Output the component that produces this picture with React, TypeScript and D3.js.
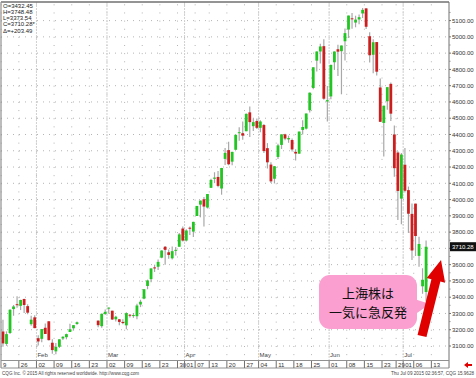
import React from 'react';
import * as d3 from 'd3';

// Trading days (2015, MM-DD)
const dates = [
  '01-19','01-20','01-21','01-22','01-23','01-26','01-27','01-28','01-29','01-30',
  '02-02','02-03','02-04','02-05','02-06','02-09','02-10','02-11','02-12','02-13',
  '02-16','02-17','02-25','02-26','02-27',
  '03-02','03-03','03-04','03-05','03-06','03-09','03-10','03-11','03-12','03-13',
  '03-16','03-17','03-18','03-19','03-20','03-23','03-24','03-25','03-26','03-27',
  '03-30','03-31','04-01','04-02','04-03','04-07','04-08','04-09','04-10',
  '04-13','04-14','04-15','04-16','04-17','04-20','04-21','04-22','04-23','04-24',
  '04-27','04-28','04-29','04-30','05-04','05-05','05-06','05-07','05-08',
  '05-11','05-12','05-13','05-14','05-15','05-18','05-19','05-20','05-21','05-22',
  '05-25','05-26','05-27','05-28','05-29','06-01','06-02','06-03','06-04','06-05',
  '06-08','06-09','06-10','06-11','06-12','06-15','06-16','06-17','06-18','06-19',
  '06-23','06-24','06-25','06-26','06-29','06-30','07-01','07-02','07-03',
  '07-06','07-07','07-08','07-09'
];
const opens = [
  3189,3113,3180,3327,3357,3347,3389,3345,3234,3276,
  3148,3144,3212,3252,3120,3067,3095,3146,3154,3186,
  3209,3235,3256,3222,3297,
  3332,3317,3264,3264,3248,3227,3292,3285,3283,3355,
  3391,3469,3511,3583,3587,3643,3710,3676,3639,3686,
  3710,3822,3748,3827,3803,3899,3969,4002,3951,
  4072,4128,4139,4068,4250,4304,4233,4306,4411,4408,
  4420,4536,4451,4483,4441,4458,4316,4215,4128,
  4262,4336,4401,4370,4366,4293,4282,4428,4436,4549,
  4686,4854,4910,4943,4603,4634,4844,4924,4912,4973,
  5045,5114,5088,5107,5144,5175,5004,4890,4968,4689,
  4471,4604,4711,4400,4289,4006,4214,4058,3912,
  3975,3654,3467,3432
];
const highs = [
  3262,3190,3326,3352,3406,3384,3390,3357,3286,3289,
  3166,3205,3238,3252,3141,3119,3142,3160,3176,3237,
  3229,3251,3257,3300,3324,
  3336,3317,3286,3266,3265,3307,3297,3302,3360,3384,
  3449,3508,3577,3600,3632,3688,3715,3693,3711,3708,
  3795,3835,3817,3835,3864,3961,3994,4016,4034,
  4128,4168,4175,4195,4317,4356,4294,4398,4444,4480,
  4529,4572,4500,4499,4488,4465,4347,4230,4206,
  4343,4401,4405,4393,4376,4309,4418,4487,4529,4658,
  4814,4911,4958,4986,4698,4829,4911,4951,4947,5052,
  5131,5147,5130,5138,5178,5176,5029,4985,4968,4744,
  4577,4691,4720,4456,4297,4287,4317,4080,3976,
  3975,3772,3578,3748
];
const lows = [
  3095,3101,3173,3286,3335,3321,3303,3295,3224,3209,
  3103,3123,3174,3134,3052,3049,3087,3137,3141,3186,
  3195,3230,3215,3212,3291,
  3298,3260,3250,3228,3233,3203,3275,3273,3265,3339,
  3388,3449,3492,3555,3567,3640,3600,3636,3632,3656,
  3710,3742,3743,3783,3770,3899,3891,3834,3945,
  4072,4101,4075,4030,4213,4211,4211,4306,4362,4368,
  4420,4385,4422,4434,4413,4286,4191,4102,4099,
  4250,4311,4365,4349,4295,4240,4281,4400,4430,4535,
  4678,4787,4837,4614,4480,4616,4797,4759,4647,4854,
  4993,5050,5059,5077,5116,5048,4843,4776,4762,4476,
  4264,4552,4483,4140,3875,3848,4043,3795,3629,
  3653,3587,3421,3374
];
const closes = [
  3116,3173,3323,3343,3351,3383,3352,3305,3262,3210,
  3128,3204,3174,3136,3075,3095,3141,3157,3173,3203,
  3228,3246,3228,3298,3310,
  3336,3263,3280,3248,3241,3302,3286,3290,3349,3372,
  3449,3503,3577,3582,3617,3687,3691,3660,3683,3691,
  3786,3748,3810,3825,3863,3961,3994,3957,4034,
  4121,4135,4084,4194,4287,4217,4293,4398,4414,4393,
  4527,4476,4476,4441,4480,4298,4229,4112,4205,
  4333,4401,4375,4378,4308,4283,4418,4446,4529,4657,
  4813,4910,4941,4620,4611,4828,4910,4909,4947,5023,
  5131,5113,5106,5121,5166,5062,4887,4967,4786,4478,
  4577,4691,4528,4193,4053,4277,4054,3913,3687,
  3776,3727,3507,3710
];
// Empty calendar slots on the axis (holiday block and the future)
const emptySlots = ['02-18','02-19','02-20','02-23','02-24','07-10','07-13','07-14','07-15','07-16','07-17'];
const tickDates = ['01-19','01-26','02-02','02-09','02-16','02-23','03-02','03-09','03-16','03-23','03-30',
  '04-01','04-07','04-13','04-20','04-27','05-04','05-11','05-18','05-25','06-01','06-08','06-15',
  '06-23','06-29','07-01','07-06','07-13'];
const monthStarts = ['02-02','03-02','04-01','05-04','06-01','07-01'];
const monthNames = ['Feb','Mar','Apr','May','Jun','Jul'];
const legendLines = ['O=3432.45','H=3748.48','L=3373.54','C=3710.28*','Δ=+203.49'];
const lastPrice = 3710.28;
const calloutLines = ['上海株は','一気に急反発'];

const FONT = "'Liberation Sans', Arial, sans-serif";

export default function App() {
  const slots = [...dates, ...emptySlots].sort();
  const x = d3.scaleBand<string>().domain(slots).range([1.2, 449]);
  const y = d3.scaleLinear().domain([3100, 5100]).range([346, 20.6]);
  const bw = x.bandwidth();
  const levels = y.ticks(20);
  const plotTop = 2, plotBottom = 360, plotLeft = 1, plotRight = 449;

  const candles = dates.map((d, i) => ({ d, o: opens[i], h: highs[i], l: lows[i], c: closes[i] }));

  // thick callout arrow, from base to tip
  const base = [422, 336], tip = [441, 260];
  const dx = tip[0] - base[0], dy = tip[1] - base[1];
  const len = Math.hypot(dx, dy);
  const u = [dx / len, dy / len], n = [-u[1], u[0]];
  const sw = 4.6, hw = 9.5, hl = 21;
  const hb = [tip[0] - u[0] * hl, tip[1] - u[1] * hl];
  const pt = (p: number[], k: number) => `${p[0] + n[0] * k},${p[1] + n[1] * k}`;
  const arrowPts = [pt(base, -sw), pt(hb, -sw), pt(hb, -hw), `${tip[0]},${tip[1]}`, pt(hb, hw), pt(hb, sw), pt(base, sw)].join(' ');

  return (
    <svg width={476} height={378} style={{ position: 'absolute', left: 0, top: 0, background: '#fff' }}
      fontFamily={FONT}>
      <defs>
        <clipPath id="plot"><rect x={plotLeft} y={plotTop} width={plotRight - plotLeft} height={plotBottom - plotTop} /></clipPath>
        <clipPath id="dates"><rect x={3} y={360} width={446} height={9} /></clipPath>
      </defs>
      <rect x={0} y={0} width={476} height={378} fill="#fff" />
      {/* horizontal dotted grid */}
      {levels.map(v => (
        <line key={'h' + v} x1={plotLeft} x2={plotRight} y1={y(v)} y2={y(v)} stroke="#b4b4b4" strokeWidth={1}
          strokeDasharray="1 5" />
      ))}
      {/* weekly vertical dotted grid */}
      {tickDates.map(t => (
        <line key={'v' + t} x1={x(t)!} x2={x(t)!} y1={y(5200)} y2={plotBottom} stroke="#b4b4b4" strokeWidth={1}
          strokeDasharray="1 7.135" />
      ))}
      {/* month separators */}
      {monthStarts.map((m, i) => (
        <g key={'m' + m}>
          <line x1={x(m)!} x2={x(m)!} y1={plotTop} y2={plotBottom} stroke="#d0d0d0" strokeWidth={1} strokeDasharray="2 1" />
          <text x={x(m)! + 1} y={357} fontSize={6} fill="#444">{monthNames[i]}</text>
        </g>
      ))}
      {/* candles */}
      <g clipPath="url(#plot)">
        {candles.map(c => {
          const cx = x(c.d)! + bw / 2;
          const up = c.c >= c.o;
          const top = y(Math.max(c.o, c.c));
          const bot = y(Math.min(c.o, c.c));
          return (
            <g key={c.d}>
              <line x1={cx} x2={cx} y1={y(c.h)} y2={y(c.l)} stroke="#a8a8a8" strokeWidth={1.2} />
              <rect x={cx - 1.4} y={top} width={2.8} height={Math.max(bot - top, 1)}
                fill={up ? '#22c622' : '#cc1e1e'} />
            </g>
          );
        })}
      </g>
      {/* frame */}
      <line x1={plotLeft} x2={plotRight} y1={plotTop} y2={plotTop} stroke="#707070" strokeWidth={1.5} />
      <line x1={plotLeft} x2={plotLeft} y1={plotTop} y2={368} stroke="#909090" strokeWidth={1.2} />
      <line x1={plotRight} x2={plotRight} y1={plotTop} y2={368} stroke="#707070" strokeWidth={1} />
      <line x1={plotLeft} x2={plotRight} y1={plotBottom + 0.5} y2={plotBottom + 0.5} stroke="#909090" strokeWidth={1} />
      <line x1={plotLeft} x2={plotRight} y1={368} y2={368} stroke="#909090" strokeWidth={1} />
      {/* right axis */}
      {levels.map(v => (
        <g key={'a' + v}>
          <line x1={plotRight} x2={plotRight + 2} y1={y(v)} y2={y(v)} stroke="#707070" />
          {Math.abs(y(v) - y(lastPrice)) > 8 && (
            <text x={452} y={y(v) + 2.2} fontSize={6} fill="#333">{v.toFixed(2)}</text>
          )}
        </g>
      ))}
      {levels.map(v => (
        <line key={'mi' + v} x1={plotRight} x2={plotRight + 1.5} y1={y(v + 50)} y2={y(v + 50)} stroke="#909090" />
      ))}
      <rect x={450} y={y(lastPrice) - 4.5} width={26} height={9} fill="#111" />
      <text x={452} y={y(lastPrice) + 2.2} fontSize={6} fill="#fff">{lastPrice.toFixed(2)}</text>
      {/* date axis */}
      <g clipPath="url(#dates)">
        {tickDates.map((t, i) => (
          <g key={'t' + t}>
            <line x1={x(t)!} x2={x(t)!} y1={361} y2={368} stroke="#707070" />
            <text x={i === 0 ? x(t)! - 1.5 : x(t)! + 2} y={366.5} fontSize={6} fill="#333">{t.slice(3)}</text>
          </g>
        ))}
      </g>
      {/* legend */}
      {legendLines.map((s, i) => (
        <text key={s} x={3} y={7.5 + i * 6.3} fontSize={6} fill="#222">{s}</text>
      ))}
      {/* footer */}
      <text x={2} y={375} fontSize={4.6} fill="#444">CQG Inc. © 2015 All rights reserved worldwide. http://www.cqg.com</text>
      <text x={474} y={375} fontSize={4.6} fill="#444" textAnchor="end">Thu Jul 09 2015 02:36:57, CQG 15.9628</text>
      <polygon points="464,365 468,362 468,364 472,364 472,366 468,366 468,368" fill="#e00000" />
      {/* callout */}
      <polygon points="411,298 430,304 417,313" fill="#fa9fd0" />
      <rect x={319} y={275} width={98} height={54} rx={11} fill="#fa9fd0" />
      {calloutLines.map((s, i) => (
        <text key={s} x={368} y={298 + i * 19} fontSize={13} textAnchor="middle" fill="#111"
          fontFamily="'Noto Sans CJK JP', sans-serif">{s}</text>
      ))}
      {/* red arrow */}
      <polygon points={arrowPts} fill="#e00000" />
    </svg>
  );
}
